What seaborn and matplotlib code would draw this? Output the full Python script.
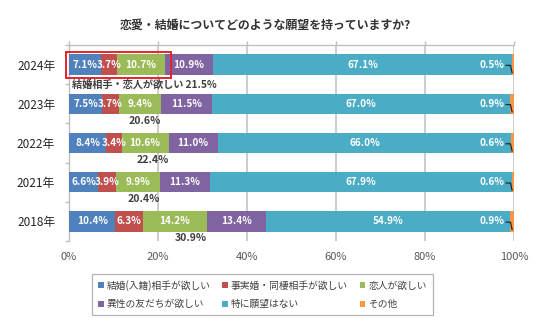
import matplotlib
matplotlib.use("Agg")
import matplotlib.pyplot as plt
from matplotlib.patches import Patch, Rectangle
import seaborn as sns
import numpy as np
import pandas as pd

years = ["2024年", "2023年", "2022年", "2021年", "2018年"]
series_names = ["結婚(入籍)相手が欲しい", "事実婚・同棲相手が欲しい", "恋人が欲しい",
                "異性の友だちが欲しい", "特に願望はない", "その他"]
marriage = [7.1, 7.5, 8.4, 6.6, 10.4]
cohabit = [3.7, 3.7, 3.4, 3.9, 6.3]
lover = [10.7, 9.4, 10.6, 9.9, 14.2]
friend = [10.9, 11.5, 11.0, 11.3, 13.4]
no_wish = [67.1, 67.0, 66.0, 67.9, 54.9]
other = [0.5, 0.9, 0.6, 0.6, 0.9]
sum_labels = ["結婚相手・恋人が欲しい 21.5%", "20.6%", "22.4%", "20.4%", "30.9%"]
x_ticks = [0, 20, 40, 60, 80, 100]
title = "恋愛・結婚についてどのような願望を持っていますか?"

colors = ["#4F81BD", "#C0504D", "#9BBB59", "#8064A2", "#4BACC6", "#F79646"]

sns.set_theme(style="white")
plt.rcParams["font.family"] = ["Noto Sans CJK JP", "DejaVu Sans"]

values = np.array([marriage, cohabit, lover, friend, no_wish, other])
cum = np.cumsum(values, axis=0)

fig = plt.figure(figsize=(5.36, 3.22), dpi=100)
ax = fig.add_axes([69 / 536, 1 - 241 / 322, (514 - 69) / 536, (241 - 45) / 322])

for i in range(len(series_names) - 1, -1, -1):
    df = pd.DataFrame({"year": years, "v": cum[i]})
    sns.barplot(data=df, x="v", y="year", orient="h", color=colors[i],
                width=0.52, linewidth=0, saturation=1, ax=ax, zorder=3)

ax.set_xlim(0, 100)
ax.set_ylim(4.5, -0.5)
ax.set_xlabel("")
ax.set_ylabel("")
ax.set_xticks(x_ticks)
ax.set_xticklabels([f"{t}%" for t in x_ticks], color="#595959", fontsize=8)
ax.tick_params(axis="x", top=True, bottom=False, labeltop=False, labelbottom=True,
               length=3, color="#BFBFBF", width=1, pad=5, direction="out")
ax.tick_params(axis="y", length=0, labelsize=8.5, labelcolor="#262626", pad=10)
ax.set_yticks([-0.5, 0.5, 1.5, 2.5, 3.5, 4.5], minor=True)
ax.tick_params(axis="y", which="minor", left=True, length=3, color="#BFBFBF", width=1)
ax.grid(axis="x", color="#C8C8C8", linewidth=1.3, zorder=0)
ax.set_axisbelow(True)
for s in ["right", "bottom"]:
    ax.spines[s].set_visible(False)
for s in ["left", "top"]:
    ax.spines[s].set_color("#BFBFBF")
    ax.spines[s].set_linewidth(1)

lab_fs = 7.2
# segment labels
for j in range(len(years)):
    for i in range(5):
        start = cum[i][j] - values[i][j]
        ax.text(start + values[i][j] / 2, j, f"{values[i][j]:.1f}%", ha="center",
                va="center", color="white", fontsize=lab_fs, fontweight="bold", zorder=5)
    # other label with leader line
    ax.text(97.8, j, f"{other[j]:.1f}%", ha="right", va="center", color="white",
            fontsize=lab_fs, fontweight="bold", zorder=5)
    ax.plot([98.1, 99.2, 99.6], [j + 0.02, j + 0.02, j + 0.22], color="#262626",
            linewidth=0.9, zorder=6, solid_capstyle="butt")
    # sum labels
    s = cum[2][j]
    if j == 0:
        ax.text(0.7, j + 0.5, sum_labels[j], ha="left", va="center", color="#404040",
                fontsize=7.3, fontweight="bold", zorder=5)
    else:
        ax.text(s, j + 0.43, sum_labels[j], ha="right", va="center", color="#404040",
                fontsize=7.6, fontweight="bold", zorder=5)

# red highlight box on 2024
x0 = -0.7
x1 = cum[2][0] + 1.5
ax.add_patch(Rectangle((x0, -0.33), x1 - x0, 0.66, fill=False, edgecolor="#E8232A",
                       linewidth=1.4, zorder=7, clip_on=False))

fig.text(265 / 536, 1 - 25 / 322, title, ha="center", va="center", fontsize=8.6,
         fontweight="bold", color="#333333")

handles = [Patch(facecolor=c, edgecolor="none") for c in colors]
order = [0, 3, 1, 4, 2, 5]
leg = fig.legend([handles[k] for k in order], [series_names[k] for k in order],
                 loc="upper left", bbox_to_anchor=(87 / 536, 1 - 269 / 322), ncol=3,
                 fontsize=7, frameon=True, fancybox=False, handlelength=0.6,
                 handleheight=0.6, handletextpad=0.3, columnspacing=1.2,
                 labelspacing=0.9, borderpad=0.6, edgecolor="#A0A0A0")
leg.get_frame().set_linewidth(0.9)
for t in leg.get_texts():
    t.set_color("#404040")

fig.savefig("out.png", dpi=100)
